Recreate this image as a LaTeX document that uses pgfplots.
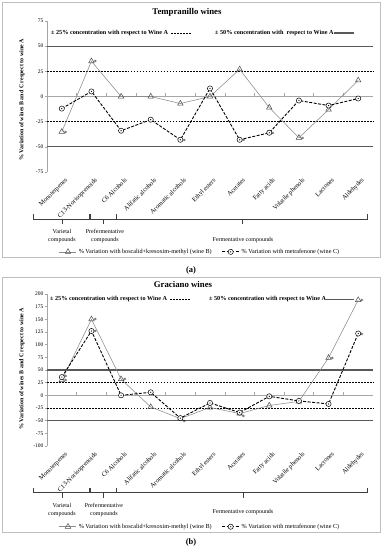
\documentclass[border=0pt]{standalone}
\usepackage{pgfplots}
\pgfplotsset{compat=1.18}
\usepackage{fontspec}
\setmainfont{Liberation Serif}
\definecolor{tri}{HTML}{8C8C8C}
\definecolor{ref50}{HTML}{595959}
\definecolor{zero}{HTML}{A6A6A6}
\definecolor{framec}{HTML}{BFBFBF}

\pgfdeclareplotmark{odot}{%
  \pgfpathcircle{\pgfpointorigin}{\pgfplotmarksize}\pgfusepathqfillstroke
  \pgfpathcircle{\pgfpointorigin}{0.3pt}\pgfusepathqstroke}

\pgfplotsset{
  panel/.style={
    scale only axis, width=326bp, anchor=south west, clip=false,
    xmin=-0.5, xmax=10.5, xtick={0,...,10},
    xticklabels={Monoterpenes, C13-Norisoprenoids, C6 Alcohols, Alifatic alcohols, Aromatic alcohols, Ethyl esters, Acetates, Fatty acids, Volatile phenols, Lactones, Aldehydes},
    xticklabel style={rotate=45, anchor=north east, font=\fontsize{6.5}{7}\selectfont, inner sep=1pt, yshift=-3bp, xshift=1bp},
    axis x line=bottom, axis y line=left,
    x axis line style={draw=none}, y axis line style={zero, line width=0.6pt, -},
    major x tick style={draw=none}, ytick style={zero, line width=0.5pt},
    major tick length=2.5bp, tick align=outside,
    yticklabel style={font=\fontsize{5.5}{6}\selectfont, inner sep=1pt},
    /pgf/number format/assume math mode=true,
    ylabel={\% Variation of wines B and C respect to wine A},
    ylabel style={font=\bfseries\fontsize{6}{7}\selectfont, anchor=center},
    legend style={draw=none, fill=none, anchor=center, legend columns=2,
      font=\fontsize{6.2}{7}\selectfont, inner sep=0pt,
      /tikz/every even column/.append style={column sep=8bp}},
    legend cell align=left,
  },
  triser/.style={tri, line width=0.55pt, mark=triangle, mark size=3.2bp,
    mark options={solid, draw=black!70, fill=white, line width=0.5pt}},
  cirser/.style={black, line width=0.9pt, dash pattern=on 3pt off 1.5pt, mark=odot, mark size=2.6bp,
    mark options={solid, draw=black, fill=white, line width=0.5pt}},
  stars/.style={draw=none, forget plot, nodes near coords={*},
    every node near coord/.append style={anchor=west, font=\fontsize{6.5}{6}\selectfont, xshift=1.5bp, yshift=-1.5bp, inner sep=0.5pt}},
}

\newcommand\refl[2]{%
  \addplot[zero, line width=0.6pt, forget plot] coordinates {(-0.5,0) (10.5,0)};
  \addplot[ref50, line width=1.1pt, forget plot] coordinates {(-0.5,#1) (10.5,#1)};
  \addplot[ref50, line width=1.1pt, forget plot] coordinates {(-0.5,-#1) (10.5,-#1)};
  \addplot[black, line width=0.5pt, dash pattern=on 1.8pt off 1.2pt, forget plot] coordinates {(-0.5,#2) (10.5,#2)};
  \addplot[black, line width=0.5pt, dash pattern=on 1.8pt off 1.2pt, forget plot] coordinates {(-0.5,-#2) (10.5,-#2)};
  \pgfplotsinvokeforeach{0.5,1.5,...,9.5}{\draw[zero, line width=0.5pt] (axis cs:##1,0) -- ([yshift=3bp]axis cs:##1,0);}
}

\newcommand\brk[4]{% x1 x2 xc y
  \draw[black!75, line width=0.5pt] (#1bp,#4bp+5bp) -- (#1bp,#4bp) -- (#2bp,#4bp) -- (#2bp,#4bp+5bp);
  \draw[black!75, line width=0.5pt] (#3bp,#4bp) -- (#3bp,#4bp-5bp);
}

\begin{document}
\begin{tikzpicture}
\useasboundingbox (0,0) rectangle (382bp,550bp);
\fill[white] (0,0) rectangle (382bp,550bp);
\draw[framec, line width=0.6pt] (2bp,293bp) rectangle (380bp,548bp);
\draw[framec, line width=0.6pt] (2bp,18bp) rectangle (380bp,273bp);

% ---------------- panel (a)
\begin{axis}[panel, at={(47bp,378bp)}, height=151bp,
  ymin=-75, ymax=75, ytick={-75,-50,-25,0,25,50,75},
  ylabel style={at={(axis description cs:-0.077,0.477)}},
  legend style={at={(axis description cs:0.47,-0.529)}}]
\refl{50}{25}
\addplot[triser] coordinates {(0,-35) (1,35) (2,0) (3,0) (4,-7) (5,0) (6,27) (7,-11) (8,-41) (9,-13) (10,16)};
\addplot[cirser] coordinates {(0,-12) (1,5) (2,-34) (3,-23) (4,-43) (5,8) (6,-43) (7,-36) (8,-4) (9,-9) (10,-2)};
\addplot[stars] coordinates {(0,-35) (1,35) (4,-43) (6,-43) (7,-36) (8,-41)};
\legend{\% Variation with boscalid+kresoxim-methyl (wine B), \% Variation with metrafenone (wine C)}
\end{axis}

\node[font=\bfseries\fontsize{8.8}{10}\selectfont] at (187bp,538bp) {Tempranillo wines};
\node[anchor=west, font=\bfseries\fontsize{6.2}{7}\selectfont, inner sep=0pt] (a1) at (51bp,517bp) {± 25\% concentration with respect to Wine A};
\draw[black, line width=0.5pt, dash pattern=on 1.8pt off 1.2pt] ([xshift=3bp]a1.east) -- ++(20bp,0);
\node[anchor=west, font=\bfseries\fontsize{6.2}{7}\selectfont, inner sep=0pt] (a2) at (215bp,517bp) {± 50\% concentration with\ \ respect to Wine A};
\draw[ref50, line width=1.1pt] (a2.east) -- ++(20bp,0);

\brk{33}{89}{62}{331}
\brk{90}{116}{103}{331}
\brk{116}{367}{242}{331}
\node[align=center, font=\fontsize{6}{8}\selectfont] at (62bp,314bp) {Varietal\\compounds};
\node[align=center, font=\fontsize{6}{8}\selectfont] at (105bp,314bp) {Prefermentative\\compounds};
\node[font=\fontsize{6}{8}\selectfont] at (243bp,310bp) {Fermentative compounds};
\node[font=\bfseries\fontsize{8.5}{10}\selectfont] at (191bp,280bp) {(a)};

% ---------------- panel (b)
\begin{axis}[panel, at={(47bp,104bp)}, height=152bp,
  ymin=-100, ymax=200, ytick={-100,-75,...,200},
  ylabel style={at={(axis description cs:-0.077,0.507)}},
  legend style={at={(axis description cs:0.47,-0.531)}}]
\refl{50}{25}
\addplot[triser] coordinates {(0,30) (1,150) (2,32) (3,-23) (4,-46) (5,-24) (6,-36) (7,-20) (8,-12) (9,74) (10,188)};
\addplot[cirser] coordinates {(0,36) (1,127) (2,0) (3,6) (4,-45) (5,-15) (6,-34) (7,-2) (8,-11) (9,-17) (10,122)};
\addplot[stars] coordinates {(0,30) (0,38) (1,150) (1,127) (2,32) (4,-50) (6,-40) (9,74) (10,188) (10,122)};
\legend{\% Variation with boscalid+kresoxim-methyl (wine B), \% Variation with metrafenone (wine C)}
\end{axis}

\node[font=\bfseries\fontsize{8.8}{10}\selectfont] at (183bp,265bp) {Graciano wines};
\node[anchor=west, font=\bfseries\fontsize{6.2}{7}\selectfont, inner sep=0pt] (b1) at (50bp,250.7bp) {± 25\% concentration with respect to Wine A};
\draw[black, line width=0.5pt, dash pattern=on 1.8pt off 1.2pt] ([xshift=3bp]b1.east) -- ++(20bp,0);
\node[anchor=west, font=\bfseries\fontsize{6.2}{7}\selectfont, inner sep=0pt] (b2) at (209bp,250.7bp) {± 50\% concentration with respect to Wine A};
\draw[ref50, line width=1.1pt] (b2.east) -- ++(28bp,0);

\brk{33}{89}{62}{57.3}
\brk{90}{116}{103}{57.3}
\brk{116}{367}{243}{57.3}
\node[align=center, font=\fontsize{6}{8}\selectfont] at (62bp,39.5bp) {Varietal\\compounds};
\node[align=center, font=\fontsize{6}{8}\selectfont] at (104bp,40bp) {Prefermentative\\compounds};
\node[font=\fontsize{6}{8}\selectfont] at (243bp,38bp) {Fermentative compounds};
\node[font=\bfseries\fontsize{8.5}{10}\selectfont] at (191bp,8bp) {(b)};
\end{tikzpicture}
\end{document}
